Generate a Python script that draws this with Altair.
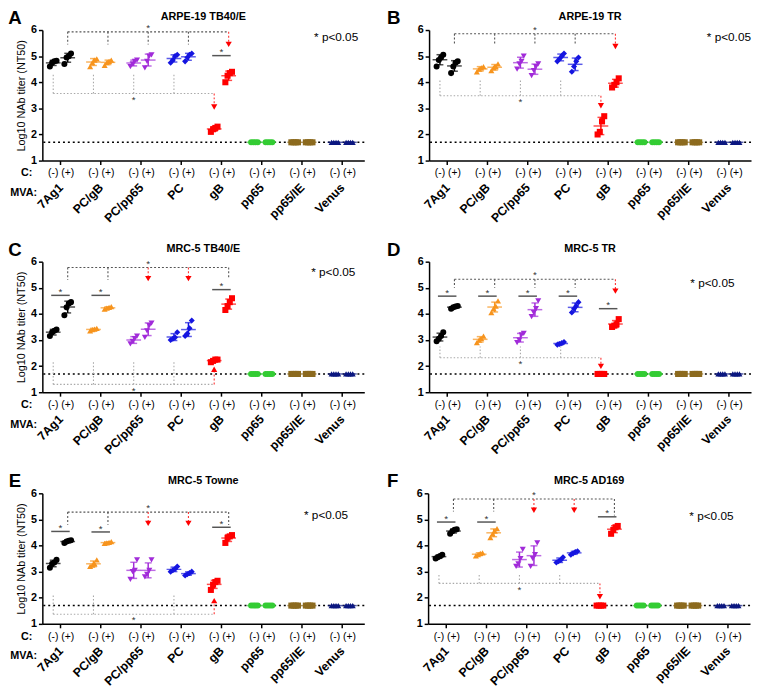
import json
import altair as alt
import numpy as np
import pandas as pd

FONT = "Liberation Sans"
GROUPS = ["7Ag1", "PC/gB", "PC/pp65", "PC", "gB", "pp65", "pp65/IE", "Venus"]
COLORS = ["#000000", "#F7941D", "#A12BD9", "#1515E0", "#FF0000", "#33CC33", "#8C6A1E", "#0B1780"]
SHAPES = ["circle", "triangle-up", "triangle-down", "diamond", "square", "circle", "square", "triangle-up"]
C_LABELS = ["(-)", "(+)"]
LOD = 1.7
LOD4 = [1.7, 1.7, 1.7, 1.7]
OFF = 0.18
W, H = 328, 133

# ---------------- replicate values (C-, C+) per MVA group ----------------
A_VALS = {
    "7Ag1": ([4.6, 4.75, 4.8, 4.82], [4.7, 4.95, 5.0, 5.1]),
    "PC/gB": ([4.6, 4.75, 4.85, 4.9], [4.65, 4.75, 4.8, 4.85]),
    "PC/pp65": ([4.6, 4.7, 4.8, 4.85], [4.55, 4.8, 5.0, 5.05]),
    "PC": ([4.75, 4.85, 5.0, 5.05], [4.8, 4.95, 5.05, 5.1]),
    "gB": ([2.1, 2.2, 2.25, 2.3], [4.0, 4.25, 4.35, 4.4]),
    "pp65": (LOD4, LOD4), "pp65/IE": (LOD4, LOD4), "Venus": (LOD4, LOD4),
}
B_VALS = {
    "7Ag1": ([4.6, 4.85, 4.95, 5.05], [4.35, 4.6, 4.75, 4.8]),
    "PC/gB": ([4.4, 4.5, 4.55, 4.6], [4.45, 4.55, 4.6, 4.7]),
    "PC/pp65": ([4.5, 4.7, 4.8, 5.0], [4.25, 4.45, 4.6, 4.7]),
    "PC": ([4.8, 4.9, 5.0, 5.1], [4.4, 4.6, 4.8, 4.95]),
    "gB": ([2.0, 2.1, 2.5, 2.7], [3.8, 3.9, 4.0, 4.15]),
    "pp65": (LOD4, LOD4), "pp65/IE": (LOD4, LOD4), "Venus": (LOD4, LOD4),
}
C_VALS = {
    "7Ag1": ([3.15, 3.3, 3.35, 3.4], [3.95, 4.25, 4.4, 4.45]),
    "PC/gB": ([3.35, 3.4, 3.42, 3.45], [4.18, 4.22, 4.25, 4.28]),
    "PC/pp65": ([2.85, 2.95, 3.05, 3.15], [3.1, 3.35, 3.55, 3.65]),
    "PC": ([3.0, 3.05, 3.1, 3.3], [3.15, 3.25, 3.45, 3.75]),
    "gB": ([2.15, 2.2, 2.25, 2.25], [4.15, 4.3, 4.45, 4.6]),
    "pp65": (LOD4, LOD4), "pp65/IE": (LOD4, LOD4), "Venus": (LOD4, LOD4),
}
D_VALS = {
    "7Ag1": ([2.95, 3.05, 3.15, 3.3], [4.2, 4.25, 4.28, 4.3]),
    "PC/gB": ([2.9, 3.0, 3.05, 3.15], [4.05, 4.2, 4.3, 4.5]),
    "PC/pp65": ([2.9, 3.0, 3.2, 3.25], [3.9, 4.05, 4.2, 4.5]),
    "PC": ([2.82, 2.85, 2.88, 2.92], [4.05, 4.2, 4.3, 4.45]),
    "gB": (LOD4, [3.5, 3.55, 3.6, 3.8]),
    "pp65": (LOD4, LOD4), "pp65/IE": (LOD4, LOD4), "Venus": (LOD4, LOD4),
}
E_VALS = {
    "7Ag1": ([3.15, 3.3, 3.35, 3.45], [4.1, 4.15, 4.18, 4.2]),
    "PC/gB": ([3.2, 3.25, 3.3, 3.45], [4.08, 4.1, 4.12, 4.15]),
    "PC/pp65": ([2.7, 3.0, 3.05, 3.45], [2.8, 2.9, 3.05, 3.45]),
    "PC": ([3.0, 3.05, 3.1, 3.2], [2.85, 2.9, 2.95, 3.0]),
    "gB": ([2.3, 2.5, 2.6, 2.65], [4.1, 4.3, 4.35, 4.4]),
    "pp65": (LOD4, LOD4), "pp65/IE": (LOD4, LOD4), "Venus": (LOD4, LOD4),
}
F_VALS = {
    "7Ag1": ([3.5, 3.55, 3.6, 3.65], [4.45, 4.55, 4.6, 4.62]),
    "PC/gB": ([3.6, 3.65, 3.7, 3.72], [4.3, 4.45, 4.55, 4.65]),
    "PC/pp65": ([3.2, 3.3, 3.5, 3.85], [3.2, 3.5, 3.65, 4.1]),
    "PC": ([3.35, 3.4, 3.45, 3.55], [3.65, 3.7, 3.75, 3.78]),
    "gB": (LOD4, [4.45, 4.6, 4.7, 4.75]),
    "pp65": (LOD4, LOD4), "pp65/IE": (LOD4, LOD4), "Venus": (LOD4, LOD4),
}

# ---------------- significance annotations ----------------
# top bracket joins the C(+) columns; bottom bracket joins the C(-) columns
A_TOP = (5.93, [("7Ag1", 5.45, "g"), ("PC/gB", 5.45, "g"), ("PC/pp65", 5.45, "g"), ("PC", 5.45, "g"), ("gB", 5.45, "r")])
A_BOT = (3.57, [("7Ag1", 4.32, "g"), ("PC/gB", 4.32, "g"), ("PC/pp65", 4.32, "g"), ("PC", 4.32, "g"), ("gB", 3.05, "r")])
A_PAIRS = [("gB", 5.02)]
A_PVAL = (6.85, 5.74)

B_TOP = (5.86, [("7Ag1", 5.43, "g"), ("PC/gB", 5.43, "g"), ("PC/pp65", 5.43, "g"), ("PC", 5.43, "g"), ("gB", 5.37, "r")])
B_BOT = (3.48, [("7Ag1", 4.08, "g"), ("PC/gB", 4.08, "g"), ("PC/pp65", 4.08, "g"), ("PC", 4.08, "g"), ("gB", 3.1, "r")])
B_PAIRS = []
B_PVAL = (7.0, 5.72)

C_TOP = (5.78, [("7Ag1", 5.3, "g"), ("PC/gB", 5.3, "g"), ("PC/pp65", 5.35, "r"), ("PC", 5.35, "r"), ("gB", 5.35, "g")])
C_BOT = (1.3, [("7Ag1", 2.18, "g"), ("PC/gB", 2.18, "g"), ("PC/pp65", 2.18, "g"), ("PC", 2.18, "g"), ("gB", 1.88, "r")])
C_PAIRS = [("7Ag1", 4.71), ("PC/gB", 4.71), ("gB", 4.93)]
C_PVAL = (6.78, 5.59)

D_TOP = (5.33, [("7Ag1", 5.0, "g"), ("PC/gB", 5.0, "g"), ("PC/pp65", 5.0, "g"), ("PC", 5.0, "g"), ("gB", 4.87, "r")])
D_BOT = (2.32, [("7Ag1", 2.75, "g"), ("PC/gB", 2.75, "g"), ("PC/pp65", 2.75, "g"), ("PC", 2.75, "g"), ("gB", 1.99, "r")])
D_PAIRS = [("7Ag1", 4.68), ("PC/gB", 4.68), ("PC/pp65", 4.68), ("PC", 4.68), ("gB", 4.2)]
D_PVAL = (6.59, 5.17)

E_TOP = (5.28, [("7Ag1", 4.8, "g"), ("PC/gB", 4.8, "g"), ("PC/pp65", 4.85, "r"), ("PC", 4.85, "r"), ("gB", 4.79, "g")])
E_BOT = (1.37, [("7Ag1", 2.1, "g"), ("PC/gB", 2.1, "g"), ("PC", 2.1, "g"), ("gB", 1.89, "r")])
E_PAIRS = [("7Ag1", 4.54), ("PC/gB", 4.52), ("gB", 4.7)]
E_PVAL = (6.6, 5.15)

F_TOP = (5.78, [("7Ag1", 5.3, "g"), ("PC/gB", 5.3, "g"), ("PC/pp65", 5.35, "r"), ("PC", 5.35, "r"), ("gB", 5.15, "g")])
F_BOT = (2.55, [("7Ag1", 2.95, "g"), ("PC/gB", 2.95, "g"), ("PC/pp65", 2.95, "g"), ("PC", 2.95, "g"), ("gB", 2.04, "r")])
F_PAIRS = [("7Ag1", 4.9), ("PC/gB", 4.9), ("gB", 5.1)]
F_PVAL = (6.59, 5.14)

# ---------------- scales / axes ----------------
xs = alt.Scale(domain=[-0.45, 7.55], nice=False, zero=False)
ys = alt.Scale(domain=[1, 6], nice=False, zero=False)
color_enc = alt.Color("group:N", scale=alt.Scale(domain=GROUPS, range=COLORS), legend=None)
shape_enc = alt.Shape("group:N", scale=alt.Scale(domain=GROUPS, range=SHAPES), legend=None)

X_AXIS = alt.Axis(values=list(range(len(GROUPS))), labelExpr=json.dumps(GROUPS) + "[datum.value]",
                  labelAngle=315, labelAlign="right", labelBaseline="middle", labelPadding=21,
                  labelFontWeight="bold", labelFontSize=12.5, labelColor="black", tickSize=4,
                  tickWidth=1.5, domainWidth=1.5, domainColor="black", tickColor="black",
                  grid=False, title=None, labelOverlap=False)


def y_axis(left):
    kw = dict(values=[1, 2, 3, 4, 5, 6], format="d", labelFontWeight="bold", labelFontSize=11,
              labelColor="black", tickSize=4, tickWidth=1.5, domainWidth=1.5, domainColor="black",
              tickColor="black", grid=False, labelPadding=2)
    if left:
        kw.update(title="Log10 NAb titer (NT50)", titleFontWeight="normal", titleFontSize=11,
                  titlePadding=4, titleColor="black")
    else:
        kw.update(title=None)
    return alt.Axis(**kw)


def build_panel(letter, title, vals, top, bot, pairs, pval, left):
    yax = y_axis(left)

    def X(f="x"):
        return alt.X(f"{f}:Q", scale=xs, axis=X_AXIS)

    def Y(f="y"):
        return alt.Y(f"{f}:Q", scale=ys, axis=yax)

    pts, stats, caps = [], [], []
    for gi, g in enumerate(GROUPS):
        for si, reps in enumerate(vals[g]):
            xc = gi + (-OFF if si == 0 else OFF)
            for ri, v in enumerate(reps):
                pts.append({"x": xc + (ri - 1.5) * 0.055, "y": v, "group": g})
            m = float(np.mean(reps))
            sd = float(np.std(reps, ddof=1))
            stats.append({"x": xc, "y": m, "lo": m - sd, "hi": m + sd, "group": g})
            caps.append({"x": xc, "y": m - sd, "group": g})
            caps.append({"x": xc, "y": m + sd, "group": g})
    pts, stats, caps = pd.DataFrame(pts), pd.DataFrame(stats), pd.DataFrame(caps)

    segs, arrows, stars = [], [], []
    for (by, drops), sign, below in ((top, OFF, False), (bot, -OFF, True)):
        xsd = [GROUPS.index(g) + sign for g, _, _ in drops]
        kind_main = "bot" if below else "top"
        segs.append({"x": min(xsd), "x2": max(xsd), "y": by, "y2": by, "kind": kind_main})
        for (g, ye, k), xx in zip(drops, xsd):
            kk = "red" if k == "r" else kind_main
            segs.append({"x": xx, "x2": xx, "y": by, "y2": ye, "kind": kk})
            if k == "r":
                arrows.append({"x": xx, "y": ye, "dir": "down" if ye < by else "up"})
        cx = (min(xsd) + max(xsd)) / 2
        stars.append({"x": cx, "y": by - 0.24 if below else by + 0.14, "t": "*"})
    pair_rows = []
    for g, py in pairs:
        gi = GROUPS.index(g)
        pair_rows.append({"x": gi - OFF - 0.05, "x2": gi + OFF + 0.05, "y": py, "y2": py})
        stars.append({"x": gi, "y": py + 0.13, "t": "*"})
    segs, arrows, stars = pd.DataFrame(segs), pd.DataFrame(arrows), pd.DataFrame(stars)

    layers = []
    layers.append(alt.Chart(pd.DataFrame({"y": [LOD]})).mark_rule(
        color="black", strokeDash=[2, 3], strokeWidth=1.6).encode(y=Y()))
    for kind, col, dash in (("top", "#555555", [2, 2]), ("bot", "#A8A8A8", [1.5, 2]), ("red", "#FF3030", [2, 2])):
        sub = segs[segs["kind"] == kind]
        if len(sub):
            layers.append(alt.Chart(sub).mark_rule(strokeDash=dash, strokeWidth=1.1, color=col).encode(
                x=X(), x2="x2:Q", y=Y(), y2="y2:Q"))
    if pair_rows:
        layers.append(alt.Chart(pd.DataFrame(pair_rows)).mark_rule(color="#555555", strokeWidth=1.5).encode(
            x=X(), x2="x2:Q", y=Y(), y2="y2:Q"))
    layers.append(alt.Chart(stars).mark_text(fontSize=10, color="#333333", baseline="middle").encode(
        x=X(), y=Y(), text="t:N"))
    layers.append(alt.Chart(stats).mark_rule(strokeWidth=1.5).encode(
        x=X(), y=Y("lo"), y2="hi:Q", color=color_enc))
    layers.append(alt.Chart(caps).mark_tick(orient="horizontal", size=7, thickness=1.5).encode(
        x=X(), y=Y(), color=color_enc))
    layers.append(alt.Chart(stats).mark_tick(orient="horizontal", size=15, thickness=1.5).encode(
        x=X(), y=Y(), color=color_enc))
    layers.append(alt.Chart(pts).mark_point(filled=True, size=38, opacity=1).encode(
        x=X(), y=Y(), color=color_enc, shape=shape_enc))
    for d, shp in (("down", "triangle-down"), ("up", "triangle-up")):
        if len(arrows):
            sub = arrows[arrows["dir"] == d]
            if len(sub):
                layers.append(alt.Chart(sub).mark_point(filled=True, size=40, opacity=1, color="#FF0000",
                                                        shape=shp).encode(x=X(), y=Y()))
    clab = pd.DataFrame([{"x": gi + (-OFF if si == 0 else OFF), "t": C_LABELS[si]}
                         for gi in range(len(GROUPS)) for si in range(2)])
    layers.append(alt.Chart(clab).mark_text(fontSize=10.5, color="black", baseline="middle").encode(
        x=X(), y=alt.value(H + 13), text="t:N"))
    layers.append(alt.Chart(pd.DataFrame({"x": [pval[0]], "y": [pval[1]], "t": ["* p<0.05"]})).mark_text(
        fontSize=12, color="black", baseline="middle").encode(x=X(), y=Y(), text="t:N"))
    one = pd.DataFrame({"a": [0]})
    layers.append(alt.Chart(one).mark_text(text=letter, fontSize=19, fontWeight="bold", color="black",
                                           align="center", baseline="middle").encode(
        x=alt.value(-28 if left else -36), y=alt.value(-12)))
    layers.append(alt.Chart(one).mark_text(text=title, fontSize=11, fontWeight="bold", color="black",
                                           align="center", baseline="middle").encode(
        x=alt.value(W / 2), y=alt.value(-13)))
    if left:
        layers.append(alt.Chart(one).mark_text(text="C:", fontSize=11, fontWeight="bold", color="black",
                                               align="center", baseline="middle").encode(
            x=alt.value(-16), y=alt.value(H + 13)))
        layers.append(alt.Chart(one).mark_text(text="MVA:", fontSize=11, fontWeight="bold", color="black",
                                               align="center", baseline="middle").encode(
            x=alt.value(-19), y=alt.value(H + 33)))
    return alt.layer(*layers).properties(width=W, height=H)


pA = build_panel("A", "ARPE-19 TB40/E", A_VALS, A_TOP, A_BOT, A_PAIRS, A_PVAL, True)
pB = build_panel("B", "ARPE-19 TR", B_VALS, B_TOP, B_BOT, B_PAIRS, B_PVAL, False)
pC = build_panel("C", "MRC-5 TB40/E", C_VALS, C_TOP, C_BOT, C_PAIRS, C_PVAL, True)
pD = build_panel("D", "MRC-5 TR", D_VALS, D_TOP, D_BOT, D_PAIRS, D_PVAL, False)
pE = build_panel("E", "MRC-5 Towne", E_VALS, E_TOP, E_BOT, E_PAIRS, E_PVAL, True)
pF = build_panel("F", "MRC-5 AD169", F_VALS, F_TOP, F_BOT, F_PAIRS, F_PVAL, False)

chart = alt.vconcat(
    alt.hconcat(pA, pB, spacing=22),
    alt.hconcat(pC, pD, spacing=22),
    alt.hconcat(pE, pF, spacing=22),
    spacing=17,
).properties(padding={"left": 0, "top": -5, "right": 0, "bottom": 0}).configure_view(
    stroke=None).configure_axis(labelFont=FONT, titleFont=FONT).configure_text(font=FONT)

chart.save("out.html", embed_options={"renderer": "svg", "actions": False})
